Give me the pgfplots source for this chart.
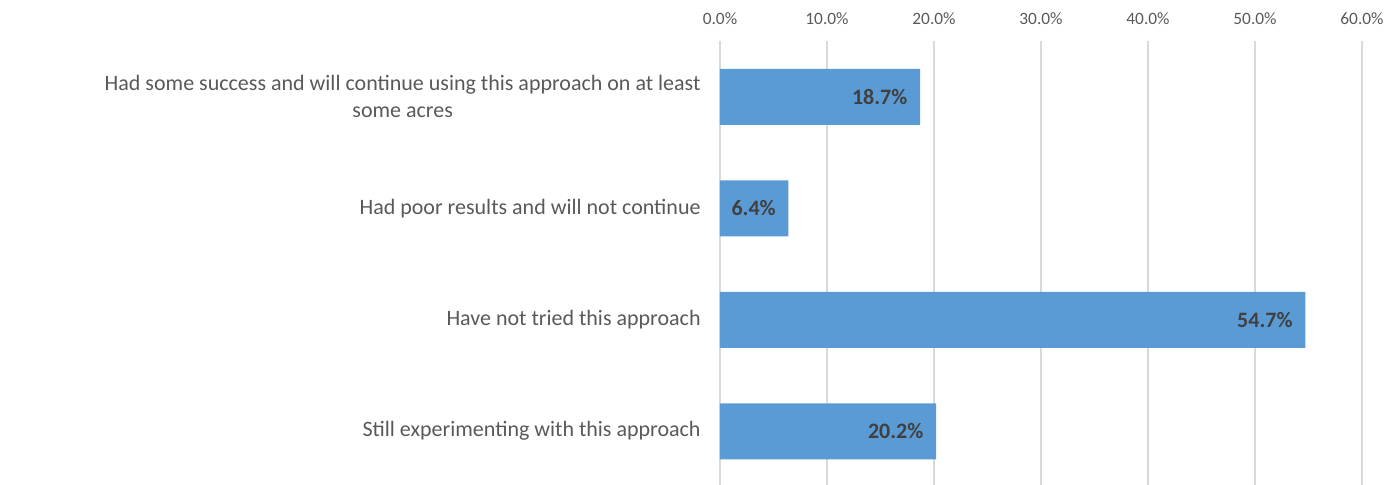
\documentclass[border=0pt]{standalone}
\usepackage{pgfplots}
\pgfplotsset{compat=1.18}
\usepackage{fontspec}
\setmainfont{Carlito}
\definecolor{barblue}{HTML}{5B9BD5}
\definecolor{gridgray}{HTML}{D9D9D9}
\definecolor{labgray}{HTML}{595959}
\definecolor{valgray}{HTML}{404040}
\begin{document}
\begin{tikzpicture}
\useasboundingbox (0,0) rectangle (1042.5pt,363.75pt);
\begin{axis}[
  at={(540pt,-1.5pt)}, anchor=south west,
  scale only axis,
  width=481.5pt, height=334.5pt,
  xbar, bar width=42pt,
  xmin=0, xmax=60,
  ymin=-0.5, ymax=3.5,
  y dir=reverse,
  xtick={0,10,...,60},
  xticklabel pos=upper,
  xticklabel={\pgfmathprintnumber[fixed,fixed zerofill,precision=1]{\tick}\%},
  /pgf/number format/assume math mode=true,
  xticklabel style={font=\fontsize{13pt}{15pt}\selectfont, text=labgray, yshift=8.5pt},
  ytick={0,1,2,3},
  yticklabels={{Had some success and will continue using this approach on at least\\some acres},
               {Had poor results and will not continue},
               {Have not tried this approach},
               {Still experimenting with this approach}},
  yticklabel style={align=center, font=\fontsize{16.5pt}{20.5pt}\selectfont, text=labgray, xshift=-11pt},
  xmajorgrids, major grid style={gridgray, line width=1pt},
  axis line style={draw=none},
  major tick length=0pt,
  clip=false,
  nodes near coords={\pgfmathprintnumber[fixed,fixed zerofill,precision=1]{\pgfplotspointmeta}\%},
  nodes near coords style={anchor=east, xshift=-6pt, font=\bfseries\fontsize{16.5pt}{18pt}\selectfont, text=valgray},
  point meta=explicit,
]
\addplot[fill=barblue, draw=none] coordinates {
  (18.7,0) [18.7]
  (6.4,1) [6.4]
  (54.7,2) [54.7]
  (20.2,3) [20.2]
};
\end{axis}
\end{tikzpicture}
\end{document}
